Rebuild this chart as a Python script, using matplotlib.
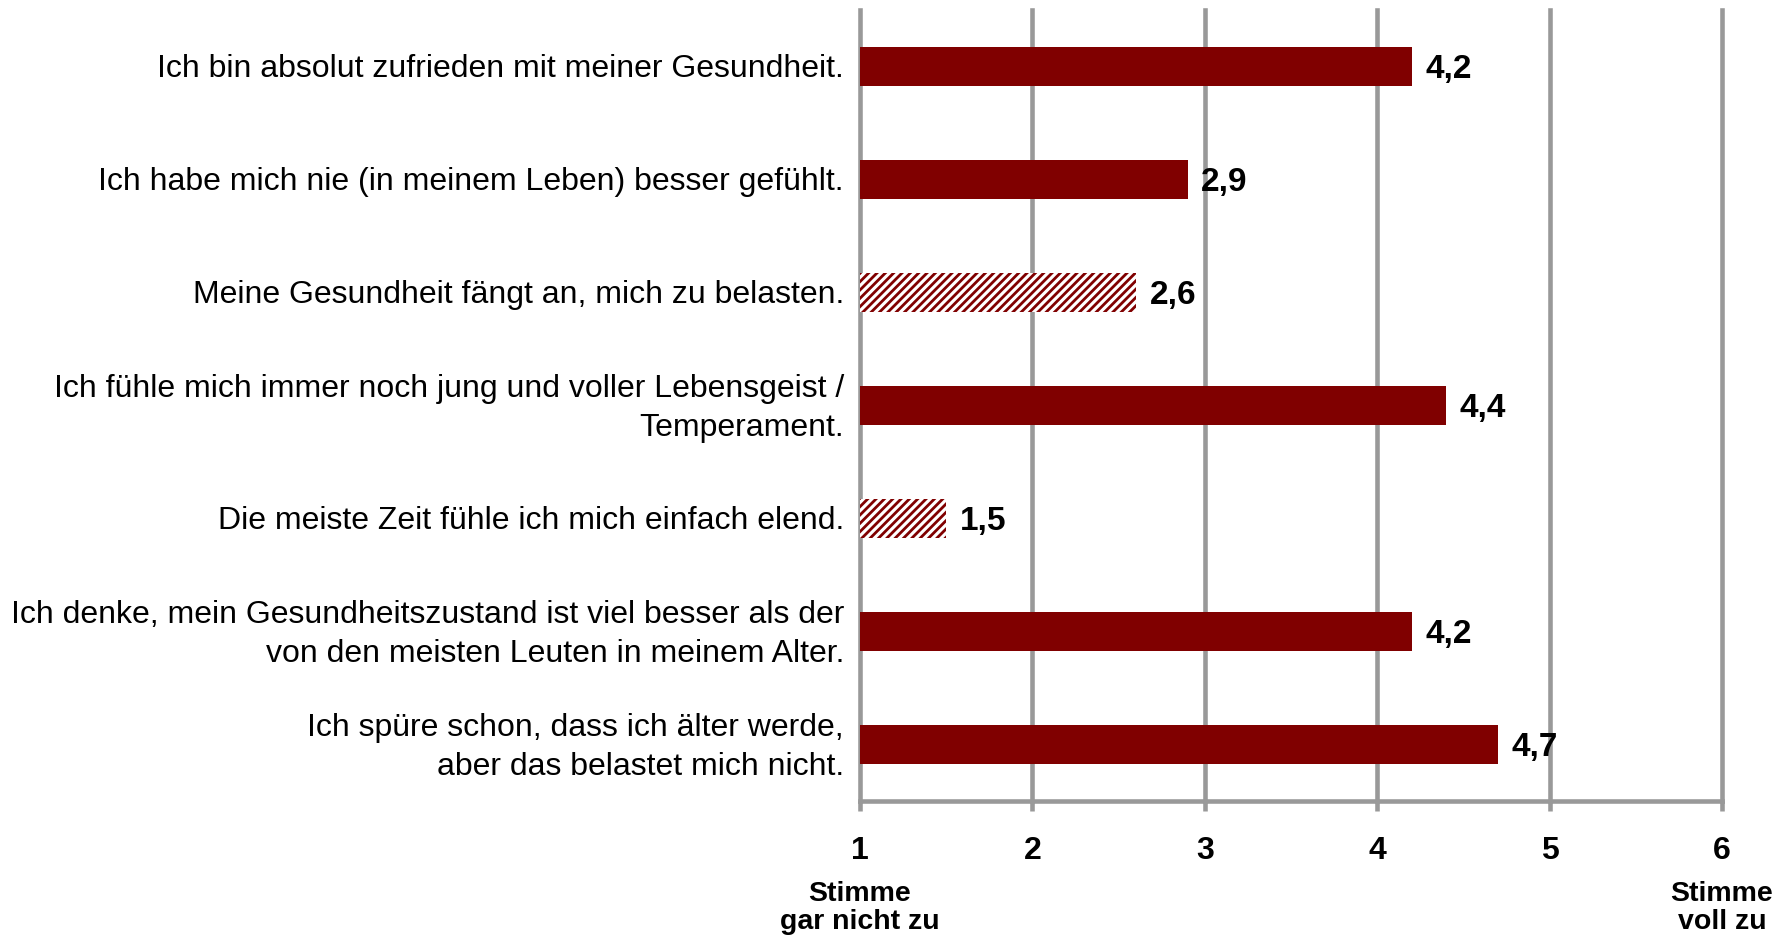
import matplotlib
matplotlib.use("Agg")
import matplotlib.pyplot as plt
from matplotlib.transforms import blended_transform_factory, ScaledTranslation

plt.rcParams['font.family'] = ['Liberation Sans', 'DejaVu Sans']
plt.rcParams['hatch.linewidth'] = 2.0
plt.rcParams['hatch.color'] = '#800000'

statements = [
    "Ich bin absolut zufrieden mit meiner Gesundheit.",
    "Ich habe mich nie (in meinem Leben) besser gefühlt.",
    "Meine Gesundheit fängt an, mich zu belasten.",
    "Ich fühle mich immer noch jung und voller Lebensgeist /\nTemperament.",
    "Die meiste Zeit fühle ich mich einfach elend.",
    "Ich denke, mein Gesundheitszustand ist viel besser als der\nvon den meisten Leuten in meinem Alter.",
    "Ich spüre schon, dass ich älter werde,\naber das belastet mich nicht.",
]
values = [4.2, 2.9, 2.6, 4.4, 1.5, 4.2, 4.7]
negative = [False, False, True, False, True, False, False]
value_labels = ["4,2", "2,9", "2,6", "4,4", "1,5", "4,2", "4,7"]
scale_ticks = [1, 2, 3, 4, 5, 6]
scale_ends = {1: "Stimme\ngar nicht zu", 6: "Stimme\nvoll zu"}

W, H = 1789, 937
fig = plt.figure(figsize=(W / 100, H / 100), dpi=100)
ax = fig.add_axes([860 / W, 1 - 802 / H, (1722 - 860) / W, (802 - 11) / H])

red = '#800000'
grey = '#999999'
for i, (v, neg) in enumerate(zip(values, negative)):
    if neg:
        ax.barh(i, v - 1, left=1, height=0.345, color='white', edgecolor=red,
                hatch='////', linewidth=0, zorder=3)
    else:
        ax.barh(i, v - 1, left=1, height=0.345, color=red, linewidth=0, zorder=3)
    ax.text(v + 0.08, i + 0.02, value_labels[i], ha='left', va='center',
            fontsize=24, fontweight='bold', color='black', zorder=4)

ax.set_xlim(1, 6)
ax.set_ylim(6.5, -0.5)
for x in scale_ticks:
    ax.axvline(x, color=grey, lw=3.3, zorder=1, clip_on=False)

for s in ['top', 'right', 'left']:
    ax.spines[s].set_visible(False)
ax.spines['bottom'].set_color(grey)
ax.spines['bottom'].set_linewidth(3.3)
ax.spines['bottom'].set_zorder(2)

ax.set_yticks(range(len(statements)))
ax.set_yticklabels([])
ax.tick_params(axis='y', length=0)
ytrans = ax.transData + ScaledTranslation(-16 / 100, 0, fig.dpi_scale_trans)
for i, s in enumerate(statements):
    ax.text(1, i + 0.015, s, transform=ytrans, ha='right', va='center',
            fontsize=23, linespacing=1.4, clip_on=False)

ax.set_xticks(scale_ticks)
ax.set_xticklabels([str(t) for t in scale_ticks], fontsize=23, fontweight='bold')
ax.tick_params(axis='x', length=7.5, width=3.3, color=grey, pad=17)

trans = blended_transform_factory(ax.transData, fig.transFigure)
for x, lab in scale_ends.items():
    ax.text(x, 1 - 908 / H, lab, transform=trans, ha='center', va='center',
            fontsize=20.5, fontweight='bold', linespacing=1.12)

fig.savefig("out.png", dpi=100)
